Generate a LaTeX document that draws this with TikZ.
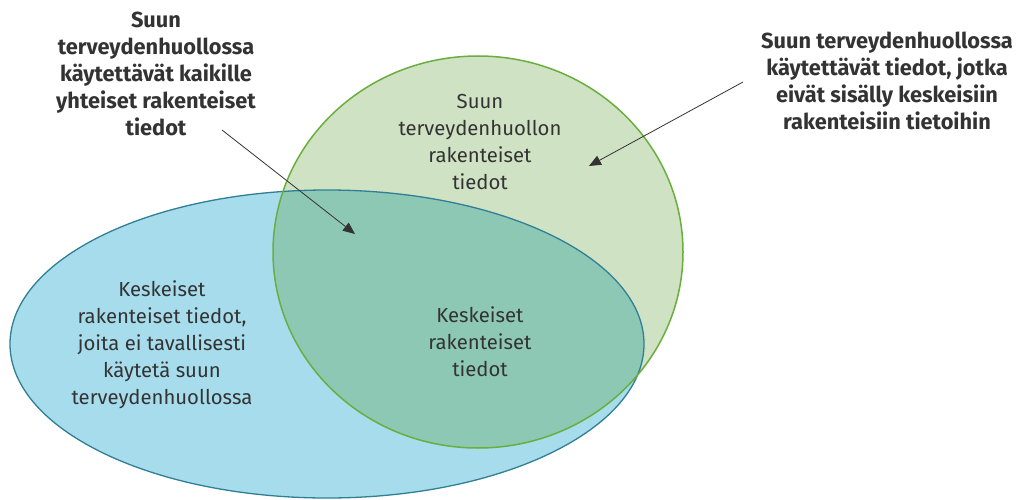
\documentclass[tikz,border=0pt]{standalone}
\usepackage{fontspec}
\setmainfont{Fira Sans}
\usetikzlibrary{arrows.meta}

\definecolor{bluefill}{HTML}{A6DCEC}
\definecolor{blueline}{HTML}{2F7F95}
\definecolor{greenfill}{HTML}{CFE2C3}
\definecolor{greenline}{HTML}{6AAE3E}
\definecolor{overlapfill}{HTML}{8DC8B5}
\definecolor{inktext}{HTML}{333333}

\tikzset{
  setlabel/.style={align=center, text=inktext, inner sep=0pt,
    font=\fontsize{20.3}{27}\selectfont},
  calloutlabel/.style={align=center, text=inktext, inner sep=0pt,
    font=\fontsize{21.8}{27}\selectfont\bfseries},
  pointer/.style={draw=inktext, line width=0.8pt,
    -{Triangle[length=12pt, width=10pt]}},
}

\begin{document}
\begin{tikzpicture}[x=1pt, y=-1pt]
  \useasboundingbox (0,0) rectangle (1019,500);

  % set shapes
  \def\blueset{(327,344) ellipse [x radius=317pt, y radius=154pt]}
  \def\greenset{(478,252) ellipse [x radius=205pt, y radius=196pt]}

  \fill[bluefill] \blueset;
  \fill[greenfill] \greenset;
  \begin{scope}
    \clip \blueset;
    \fill[overlapfill] \greenset;
  \end{scope}
  \draw[blueline, line width=1.3pt] \blueset;
  \draw[greenline, line width=1.5pt] \greenset;

  % labels inside the sets
  \node[setlabel] (oral) at (480,142)
    {Suun\\terveydenhuollon\\rakenteiset\\tiedot};
  \node[setlabel] (core) at (480,342)
    {Keskeiset\\rakenteiset\\tiedot};
  \node[setlabel] (coreonly) at (162,345)
    {Keskeiset\\rakenteiset tiedot,\\joita ei tavallisesti\\käytetä suun\\terveydenhuollossa};

  % callouts
  \node[calloutlabel] (shared) at (156,74)
    {Suun\\terveydenhuollossa\\käytettävät kaikille\\yhteiset rakenteiset\\tiedot};
  \node[calloutlabel] (extra) at (887,81)
    {Suun terveydenhuollossa\\käytettävät tiedot, jotka\\eivät sisälly keskeisiin\\rakenteisiin tietoihin};

  \coordinate (sharedfrom) at (222,130);
  \coordinate (sharedto) at (355,234);
  \coordinate (extrafrom) at (743,82);
  \coordinate (extrato) at (589,166);
  \draw[pointer] (sharedfrom) -- (sharedto);
  \draw[pointer] (extrafrom) -- (extrato);
\end{tikzpicture}
\end{document}
